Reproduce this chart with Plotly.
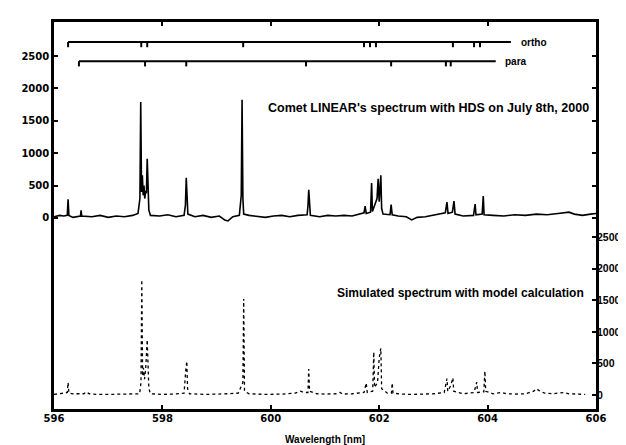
import plotly.graph_objects as go

# ---- observed spectrum (Comet LINEAR, HDS) : wavelength [nm], intensity ----
obs_wl = [596.00, 596.10, 596.18, 596.245, 596.26, 596.275, 596.35, 596.45, 596.488, 596.50,
          596.512, 596.70, 596.85, 597.00, 597.15, 597.30, 597.45, 597.55, 597.585, 597.60,
          597.615, 597.63, 597.645, 597.66, 597.675, 597.69, 597.705, 597.72, 597.735, 597.75,
          597.78, 597.95, 598.10, 598.25, 598.40, 598.425, 598.44, 598.455, 598.47, 598.60,
          598.75, 598.90, 599.05, 599.15, 599.21, 599.30, 599.42, 599.455, 599.47, 599.485,
          599.50, 599.60, 599.75, 599.90, 600.05, 600.20, 600.35, 600.50, 600.67, 600.685,
          600.70, 600.715, 600.73, 600.90, 601.05, 601.20, 601.35, 601.50, 601.65, 601.72,
          601.74, 601.76, 601.84, 601.86, 601.875, 601.96, 601.98, 602.00, 602.03, 602.045,
          602.07, 602.20, 602.22, 602.24, 602.35, 602.50, 602.60, 602.70, 602.85, 603.00,
          603.10, 603.22, 603.25, 603.27, 603.35, 603.38, 603.40, 603.55, 603.74, 603.77,
          603.785, 603.90, 603.92, 603.935, 604.10, 604.30, 604.50, 604.70, 604.90, 605.10,
          605.30, 605.50, 605.60, 605.75, 605.90, 606.00]
obs_int = [20, 40, 30, 40, 290, 40, 10, 30, 30, 120,
           30, 20, 40, 10, 30, 20, 40, 70, 300, 1790,
           400, 660, 350, 500, 300, 420, 380, 915, 380, 120,
           40, 30, 50, 20, 40, 200, 620, 200, 60, 20,
           40, 10, 30, -30, -45, 20, 40, 350, 1825, 300,
           60, 40, 30, 10, 30, 40, 20, 40, 50, 180,
           437, 80, 40, 20, 40, 30, 40, 30, 60, 80,
           185, 70, 90, 540, 100, 300, 607, 250, 660, 150,
           60, 50, 205, 50, 30, 20, -30, 10, 20, 40,
           60, 80, 245, 70, 90, 260, 60, 30, 40, 215,
           50, 60, 340, 50, 40, 30, 50, 40, 60, 50,
           70, 90, 60, 40, 60, 70]

# ---- simulated spectrum (model calculation) ----
sim_wl = [596.00, 596.10, 596.18, 596.245, 596.26, 596.275, 596.35, 596.55, 596.60, 596.65,
          596.80, 597.00, 597.20, 597.40, 597.58, 597.605, 597.62, 597.635, 597.65, 597.67,
          597.69, 597.72, 597.735, 597.75, 597.78, 598.00, 598.20, 598.40, 598.43, 598.45,
          598.465, 598.50, 598.80, 599.00, 599.20, 599.40, 599.485, 599.50, 599.515, 599.60,
          599.90, 600.20, 600.45, 600.55, 600.62, 600.685, 600.70, 600.715, 600.85, 601.00,
          601.20, 601.28, 601.32, 601.50, 601.72, 601.76, 601.78, 601.88, 601.90, 601.915,
          601.97, 602.00, 602.03, 602.045, 602.15, 602.225, 602.24, 602.255, 602.40, 602.60,
          602.80, 603.00, 603.20, 603.25, 603.265, 603.32, 603.36, 603.375, 603.55, 603.75,
          603.80, 603.815, 603.93, 603.95, 603.965, 604.10, 604.25, 604.35, 604.50, 604.70,
          604.85, 604.90, 604.95, 605.05, 605.20, 605.40, 605.50, 605.70, 605.80]
sim_int = [10, 15, 30, 40, 200, 30, 20, 20, 50, 20,
           10, 10, 10, 15, 20, 200, 1825, 300, 430, 250,
           400, 875, 300, 100, 20, 10, 15, 30, 380, 535,
           100, 20, 10, 10, 20, 30, 200, 1520, 60, 20,
           10, 15, 30, 60, 40, 40, 410, 60, 20, 15,
           20, 40, 15, 20, 40, 190, 40, 60, 680, 120,
           200, 585, 740, 100, 30, 30, 190, 30, 15, 10,
           15, 20, 40, 260, 60, 150, 270, 60, 20, 40,
           205, 40, 50, 380, 60, 20, 40, 20, 15, 20,
           60, 100, 70, 30, 20, 40, 20, 10, 10]

# ---- ortho / para line identification bars ----
ortho_wl = [596.26, 597.61, 597.72, 599.49, 601.72, 601.83, 601.94, 603.36, 603.75, 603.86]
ortho_end = 604.43
para_wl = [596.46, 597.68, 598.44, 600.65, 602.22, 603.23, 603.32]
para_end = 604.15
ortho_level = 2716
para_level = 2420
bar_tick = 80

x_ticks = [596, 598, 600, 602, 604, 606]
y_ticks = [0, 500, 1000, 1500, 2000, 2500]


def id_bar(wls, end, level):
    xs = [wls[0], end, None]
    ys = [level, level, None]
    for w in wls:
        xs += [w, w, None]
        ys += [level, level - bar_tick, None]
    return xs, ys


fig = go.Figure()
fig.add_trace(go.Scatter(x=obs_wl, y=obs_int, mode="lines",
                         line=dict(color="black", width=1.6), yaxis="y"))
fig.add_trace(go.Scatter(x=sim_wl, y=sim_int, mode="lines",
                         line=dict(color="black", width=1.3, dash="dot"), yaxis="y2"))
ox, oy = id_bar(ortho_wl, ortho_end, ortho_level)
px, py = id_bar(para_wl, para_end, para_level)
fig.add_trace(go.Scatter(x=ox, y=oy, mode="lines", line=dict(color="black", width=2),
                         yaxis="y", connectgaps=False))
fig.add_trace(go.Scatter(x=px, y=py, mode="lines", line=dict(color="black", width=2),
                         yaxis="y", connectgaps=False))

tickfont = dict(family="DejaVu Sans", size=10, color="black", weight="bold")
tickfont_r = dict(family="Liberation Sans", size=10.5, color="black", weight="bold")

fig.update_layout(
    width=626, height=445,
    margin=dict(l=46, r=38, t=14, b=44),
    paper_bgcolor="white", plot_bgcolor="white",
    showlegend=False,
    xaxis=dict(range=[596, 606], tickvals=x_ticks, ticktext=[str(v) for v in x_ticks],
               ticks="inside", ticklen=4, tickwidth=2, tickcolor="black",
               showline=True, linecolor="black", linewidth=2.5, mirror="ticks",
               showgrid=False, zeroline=False, tickfont=tickfont, automargin=False,
               ticklabelstandoff=-2),
    yaxis=dict(range=[-2948, 3025], tickvals=y_ticks, ticks="inside", ticklen=4,
               tickwidth=2, tickcolor="black", showline=True, linecolor="black",
               linewidth=2.5, mirror="ticks", showgrid=False, zeroline=False,
               tickfont=tickfont, automargin=False),
    yaxis2=dict(range=[-221, 5902], tickvals=y_ticks, ticks="inside", ticklen=4,
                tickwidth=2, tickcolor="black", side="right", overlaying="y",
                showline=False, showgrid=False, zeroline=False,
                tickfont=tickfont_r, automargin=False),
    annotations=[
        dict(x=605.91, y=1700, xref="x", yref="y", text="Comet LINEAR's spectrum with HDS on July 8th, 2000",
             showarrow=False, xanchor="right", yanchor="middle",
             font=dict(family="Liberation Sans", size=12.5, color="black", weight="bold")),
        dict(x=605.82, y=1614, xref="x", yref="y2", text="Simulated spectrum with model calculation",
             showarrow=False, xanchor="right", yanchor="middle",
             font=dict(family="Liberation Sans", size=12, color="black", weight="bold")),
        dict(x=ortho_end, y=ortho_level, xref="x", yref="y", text="ortho", xshift=8,
             showarrow=False, xanchor="left", yanchor="middle",
             font=dict(family="Liberation Sans", size=10, color="black", weight="bold")),
        dict(x=para_end, y=para_level, xref="x", yref="y", text="para", xshift=7,
             showarrow=False, xanchor="left", yanchor="middle",
             font=dict(family="Liberation Sans", size=10, color="black", weight="bold")),
        dict(x=0.5, y=-0.08, xref="paper", yref="paper", text="Wavelength [nm]",
             showarrow=False, xanchor="center", yanchor="middle",
             font=dict(family="Liberation Sans", size=10, color="black", weight="bold")),
    ],
)

fig.write_html("out.html")
